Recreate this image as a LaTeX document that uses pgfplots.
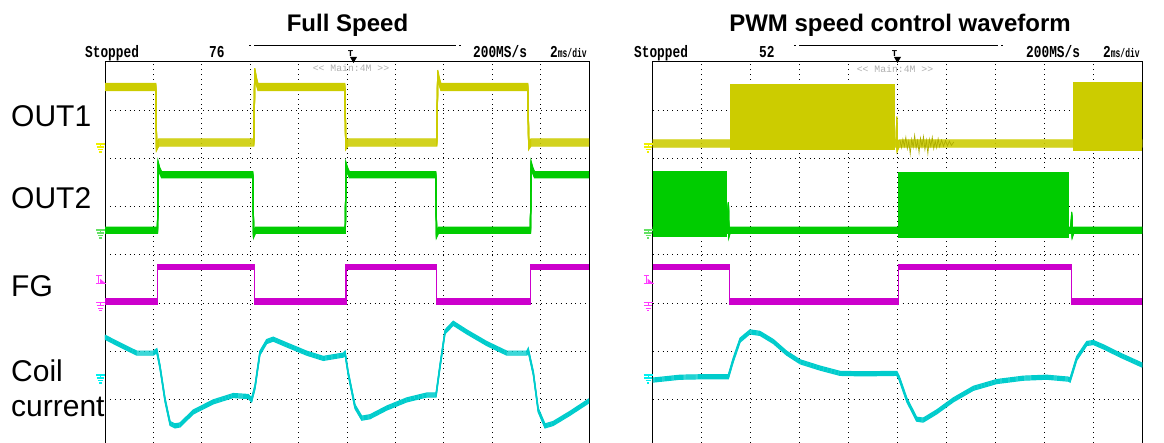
\documentclass[border=0pt]{standalone}
\usepackage{graphicx}
\usepackage{pgfplots}
\pgfplotsset{compat=1.18}
\usepackage{pgfplotstable}
\usepackage{fontspec}
\setmainfont{Liberation Sans}
\newfontfamily\scopefont{Liberation Mono}

\definecolor{tyel}{RGB}{204,204,0}
\definecolor{tgrn}{RGB}{0,204,0}
\definecolor{tmag}{RGB}{204,0,204}
\definecolor{tcyn}{RGB}{0,204,204}
\definecolor{gyel}{RGB}{240,240,0}
\definecolor{ggrn}{RGB}{100,225,100}
\definecolor{gmag}{RGB}{255,60,255}
\definecolor{gcyn}{RGB}{0,240,240}
\definecolor{mgray}{RGB}{175,175,175}

% ---------- Full speed (left scope), x in ms, y in divisions ----------
\pgfplotstableread{
t y
0 7.48
2.10 7.48
2.13 6.24
2.22 6.33
6.15 6.33
6.19 7.80
6.25 7.62
6.32 7.48
9.91 7.48
9.95 6.26
10.04 6.33
13.71 6.33
13.75 7.76
13.81 7.60
13.88 7.48
17.47 7.48
17.51 6.26
17.60 6.33
20 6.33
}\LoutA
\pgfplotstableread{
t y
0 4.51
2.17 4.51
2.20 5.86
2.25 5.76
2.34 5.66
6.11 5.66
6.14 4.42
6.22 4.51
9.93 4.51
9.96 5.85
10.02 5.75
10.10 5.66
13.67 5.66
13.70 4.42
13.78 4.51
17.58 4.51
17.61 5.87
17.67 5.76
17.75 5.66
20 5.66
}\LoutB
\pgfplotstableread{
t y
0 3.03
2.18 3.03
2.18 3.75
6.17 3.75
6.17 3.03
9.96 3.03
9.96 3.75
13.71 3.75
13.71 3.03
17.59 3.03
17.59 3.75
20 3.75
}\Lfg
\pgfplotstableread{
t y
0 2.29
0.62 2.13
1.31 1.96
2.00 1.96
2.14 2.01
2.27 1.68
2.48 0.99
2.69 0.50
2.89 0.45
3.10 0.47
3.65 0.74
4.48 0.95
5.30 1.08
5.92 1.06
6.06 0.99
6.20 1.26
6.40 1.96
6.68 2.20
6.95 2.25
7.51 2.13
8.33 1.96
9.02 1.85
9.85 1.92
9.92 1.96
10.05 1.54
10.33 0.85
10.61 0.61
10.95 0.64
11.64 0.82
12.47 0.99
13.29 1.09
13.68 1.09
13.84 1.68
14.05 2.40
14.39 2.58
14.95 2.40
15.77 2.16
16.60 1.96
17.43 1.96
17.49 2.02
17.70 1.54
17.90 0.78
18.18 0.45
18.52 0.50
19.21 0.71
20.00 0.97
}\Lcoil

% ---------- PWM (right scope) ----------
\pgfplotstableread{
t y
0 6.31
9.95 6.31
9.97 6.80
9.99 6.22
10.06 6.31
20 6.31
}\RoutA
\pgfplotstableread{
t y
10.10 6.38
10.16 6.22
10.22 6.40
10.28 6.25
10.34 6.44
10.40 6.20
10.46 6.36
10.52 6.09
10.58 6.40
10.64 6.23
10.70 6.48
10.76 6.21
10.82 6.37
10.88 6.12
10.94 6.42
11.00 6.24
11.06 6.45
11.12 6.18
11.18 6.38
11.24 6.10
11.30 6.40
11.36 6.25
11.42 6.44
11.48 6.20
11.54 6.36
11.60 6.22
11.66 6.41
11.72 6.24
11.80 6.38
11.88 6.25
11.96 6.37
12.04 6.26
12.12 6.36
12.20 6.27
12.30 6.34
}\RoutAnoise
\pgfplotstableread{
t y
0 4.51
3.05 4.51
3.09 5.03
3.11 4.42
3.16 4.51
17.08 4.51
17.12 4.83
17.14 4.42
17.20 4.51
20 4.51
}\RoutB
\pgfplotstableread{
t y
0 3.75
3.13 3.75
3.13 3.03
10.03 3.03
10.03 3.75
17.12 3.75
17.12 3.03
20 3.03
}\Rfg
\pgfplotstableread{
t y
0 1.40
1.12 1.46
2.07 1.47
3.09 1.47
3.29 1.82
3.57 2.23
3.97 2.40
4.38 2.37
4.93 2.20
5.47 1.96
6.02 1.78
6.83 1.65
7.65 1.54
8.60 1.53
9.97 1.54
10.07 1.44
10.38 0.99
10.78 0.59
11.05 0.57
11.60 0.74
12.28 0.99
13.10 1.23
14.05 1.37
15.14 1.44
16.09 1.46
16.98 1.42
17.05 1.40
17.32 1.85
17.73 2.16
18.00 2.18
18.41 2.09
19.09 1.92
20.00 1.71
}\Rcoil

\pgfplotsset{
  scopeaxis/.style={
    scale only axis, height=395.24pt,
    xmin=0, xmax=20, ymin=-0.2, ymax=8,
    xtick={2,4,...,18}, ytick={1,2,...,7},
    xticklabels={}, yticklabels={}, major tick length=0pt,
    grid=major,
    major grid style={black, line width=0.9pt, dash pattern=on 0.9pt off 4pt},
    axis line style={black, line width=1pt},
    clip=false, anchor=north west,
  }
}
% thick noisy band: same trace drawn several times with small vertical offsets
\newcommand{\band}[3]{%
  \pgfplotsinvokeforeach{#3}{\addplot[#1, line width=1.2pt, mark=none, yshift=##1pt] table[x=t,y=y] {#2};}}

% channel markers (picture coordinates, pt = px)
\newcommand{\gnd}[3]{%
  \begin{scope}[shift={(#2pt,#3pt)}, draw=#1, line width=1.2pt]
    \draw (-9pt,0pt) -- (0pt,0pt);
    \draw (-4.5pt,0pt) -- (-4.5pt,-3pt);
    \draw (-8.3pt,-3pt) -- (-0.7pt,-3pt);
    \draw (-7pt,-5.5pt) -- (-2pt,-5.5pt);
    \draw (-5.7pt,-8pt) -- (-3.3pt,-8pt);
  \end{scope}}
\newcommand{\trig}[3]{%
  \begin{scope}[shift={(#2pt,#3pt)}, draw=#1, line width=1.2pt]
    \draw (-9pt,8.4pt) -- (-3.3pt,8.4pt);
    \draw (-6.3pt,8.4pt) -- (-6.3pt,0pt);
    \draw (-9pt,0pt) -- (1pt,0pt);
    \fill[#1] (-5pt,5pt) -- (-5pt,0pt) -- (1pt,0pt) -- cycle;
  \end{scope}}
\newcommand{\hdr}[1]{\scopefont\bfseries\fontsize{12.8}{13}\selectfont\scalebox{1}[1.3]{#1}}
\newcommand{\tdiv}{\scopefont\bfseries\fontsize{12.8}{13}\selectfont\scalebox{1}[1.3]{2}{\fontsize{10}{10}\selectfont\scalebox{0.8}[1.25]{ms/div}}}

\begin{document}
\begin{tikzpicture}

% ================= LEFT SCOPE =================
\begin{axis}[scopeaxis, width=484pt, at={(105pt,381pt)}]
  \band{tyel}{\LoutA}{-3.5,-2.5,-1.5,-0.5,0.5,1.5,2.5,3.5}
  \band{tgrn}{\LoutB}{-3,-2,-1,0,1,2,3}
  \band{tmag}{\Lfg}{-2.5,-1.5,-0.5,0.5,1.5,2.5}
  \band{tcyn}{\Lcoil}{-2,-1,0,1,2}
\end{axis}

% ================= RIGHT SCOPE =================
\begin{axis}[scopeaxis, width=489.6pt, at={(652.7pt,381pt)}]
  \band{tyel}{\RoutA}{-3.5,-2.5,-1.5,-0.5,0.5,1.5,2.5,3.5}
  \addplot[tyel!85!black, line width=0.7pt, mark=none] table[x=t,y=y] {\RoutAnoise};
  \addplot[fill=tyel, draw=none] coordinates {(3.16,6.17) (3.16,7.54) (9.90,7.54) (9.90,6.17)} -- cycle;
  \addplot[fill=tyel, draw=none] coordinates {(17.17,6.15) (17.17,7.58) (20,7.58) (20,6.15)} -- cycle;
  \band{tgrn}{\RoutB}{-3,-2,-1,0,1,2,3}
  \addplot[fill=tgrn, draw=none] coordinates {(0,4.36) (0,5.74) (3.02,5.74) (3.02,4.36)} -- cycle;
  \addplot[fill=tgrn, draw=none] coordinates {(10.03,4.34) (10.03,5.72) (17.01,5.72) (17.01,4.34)} -- cycle;
  \band{tmag}{\Rfg}{-2.5,-1.5,-0.5,0.5,1.5,2.5}
  \band{tcyn}{\Rcoil}{-2,-1,0,1,2}
\end{axis}

% channel markers
\gnd{gyel}{105}{299}
\gnd{ggrn}{105}{213}
\trig{gmag}{105}{159.3}
\gnd{gmag}{105}{140.3}
\gnd{gcyn}{105}{68}
\gnd{gyel}{652.7}{299}
\gnd{ggrn}{652.7}{213}
\trig{gmag}{652.7}{159.3}
\gnd{gmag}{652.7}{140.3}
\gnd{gcyn}{652.7}{68}

% headers (left)
\node[anchor=base west, inner sep=0pt] at (85pt,385pt) {\hdr{Stopped}};
\node[anchor=base west, inner sep=0pt] at (209pt,385pt) {\hdr{76}};
\node[anchor=base west, inner sep=0pt] at (473pt,385pt) {\hdr{200MS/s}};
\node[anchor=base west, inner sep=0pt] at (550pt,385pt) {\tdiv};
\draw[line width=0.9pt] (254pt,398pt) -- (456pt,398pt);
\draw[line width=0.9pt] (249pt,398pt) -- (251pt,398pt) (459pt,398pt) -- (461pt,398pt);
\node[anchor=base, inner sep=0pt] at (350.5pt,386pt) {\scopefont\bfseries\fontsize{9}{9}\selectfont T};
\fill (350pt,386pt) -- (357pt,386pt) -- (353.5pt,380pt) -- cycle;
\node[anchor=center, inner sep=0pt, text=mgray] at (351pt,375pt) {\scopefont\fontsize{9.8}{10}\selectfont << Main:4M >{}>};

% headers (right)
\node[anchor=base west, inner sep=0pt] at (634pt,385pt) {\hdr{Stopped}};
\node[anchor=base west, inner sep=0pt] at (759pt,385pt) {\hdr{52}};
\node[anchor=base west, inner sep=0pt] at (1026pt,385pt) {\hdr{200MS/s}};
\node[anchor=base west, inner sep=0pt] at (1103pt,385pt) {\tdiv};
\draw[line width=0.9pt] (799pt,398pt) -- (998pt,398pt);
\draw[line width=0.9pt] (794pt,398pt) -- (796pt,398pt) (1001pt,398pt) -- (1003pt,398pt);
\node[anchor=base, inner sep=0pt] at (894.5pt,386pt) {\scopefont\bfseries\fontsize{9}{9}\selectfont T};
\fill (894pt,386pt) -- (901pt,386pt) -- (897.5pt,380pt) -- cycle;
\node[anchor=center, inner sep=0pt, text=mgray] at (895pt,374pt) {\scopefont\fontsize{9.8}{10}\selectfont << Main:4M >{}>};

% titles
\node[anchor=base, inner sep=0pt] at (347.5pt,411pt) {\fontsize{24}{24}\selectfont\bfseries Full Speed};
\node[anchor=base, inner sep=0pt] at (900pt,411pt) {\fontsize{24}{24}\selectfont\bfseries PWM speed control waveform};

% channel labels
\node[anchor=base west, inner sep=0pt] at (11pt,316.3pt) {\fontsize{30}{30}\selectfont OUT1};
\node[anchor=base west, inner sep=0pt] at (11pt,234.7pt) {\fontsize{30}{30}\selectfont OUT2};
\node[anchor=base west, inner sep=0pt] at (11pt,146.3pt) {\fontsize{30}{30}\selectfont FG};
\node[anchor=base west, inner sep=0pt] at (11pt,61.3pt) {\fontsize{30}{30}\selectfont Coil};
\node[anchor=base west, inner sep=0pt] at (11pt,26.3pt) {\fontsize{30}{30}\selectfont current};

\pgfresetboundingbox
\path[use as bounding box] (0pt,0pt) rectangle (1164pt,443pt);
\end{tikzpicture}
\end{document}
